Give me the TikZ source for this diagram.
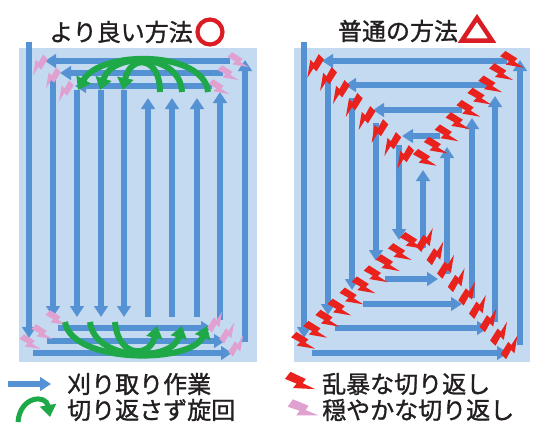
\documentclass[tikz,border=0pt]{standalone}
\usepackage{fontspec}
\newfontfamily\jp{Noto Sans CJK JP}[FakeBold=1.2]
\usetikzlibrary{arrows.meta}
\definecolor{bgblue}{RGB}{196,218,240}
\definecolor{lineblue}{RGB}{84,146,212}
\definecolor{turngreen}{RGB}{30,168,72}
\definecolor{boltred}{RGB}{234,34,30}
\definecolor{boltpink}{RGB}{224,160,208}
\definecolor{markred}{RGB}{218,28,36}
\definecolor{txtgray}{RGB}{35,31,32}
\newcommand\zap[5]{\fill[#5,shift={(#1,#2)},rotate=#3,scale=#4] (-10,-2.5) -- (-10,3.5) -- (-2,1.2) -- (-2,5) -- (10,-3.5) -- (1,-1.5) -- (1,-5) -- cycle;}
\begin{document}
\begin{tikzpicture}[x=1pt,y=-1pt,
  cutarrow/.style={draw=lineblue,line width=5.5pt,-{Triangle[width=13.5pt,length=11pt]}},
  uturnarrow/.style={draw=turngreen,line width=6pt,-{Triangle[width=16pt,length=12pt]}},
  lblstyle/.style={font=\jp\fontsize{24}{28}\selectfont,text=txtgray,inner sep=0pt}]
\useasboundingbox (0,0) rectangle (551,434);
\fill[white] (0,0) rectangle (551,434);
% panels
\fill[bgblue] (19,48) rectangle (257,362);
\fill[bgblue] (294,48) rectangle (530,362);
% left blue cuts
\foreach \ax/\ay/\bx/\by in {29/42/29/338, 53/77/53/317, 77/90/77/317, 101/90/101/317, 124/90/124/317,
  148/317/148/98, 172/317/172/98, 197/317/197/98, 220/320/220/92, 245/342/245/60,
  230/61/45/61, 223/73/60/73, 212/86/75/86, 58/328/212/328, 47/341/225/341, 33/353/232/353}
  {\draw[cutarrow] (\ax,\ay) -- (\bx,\by);}
% right blue cuts
\foreach \ax/\ay/\bx/\by in {304/42/304/338, 312/353/508/353, 520/345/520/60, 507/61/322/61,
  328/76/328/315, 335/328/488/328, 495/322/495/96, 488/85/345/85, 352/98/352/290,
  363/304/462/304, 472/298/472/118, 462/110/373/110, 376/123/376/261, 385/279/438/279,
  447/274/447/147, 440/136/402/136, 399/145/399/240, 423/248/423/170}
  {\draw[cutarrow] (\ax,\ay) -- (\bx,\by);}
% pink gentle turns
\foreach \px/\py in {38/65, 51/78, 64/91} {\zap{\px}{\py}{225}{1.1}{boltpink}}
\foreach \px/\py in {238/62, 228/75, 219/89} {\zap{\px}{\py}{-45}{1.1}{boltpink}}
\foreach \px/\py in {30/344, 42/334, 56/320} {\zap{\px}{\py}{-45}{1.1}{boltpink}}
\foreach \px/\py in {217/322, 229/333, 238/346} {\zap{\px}{\py}{45}{1.1}{boltpink}}
% green u-turns
\draw[uturnarrow] (208,92) .. controls (204,50) and (100,50) .. (78,90);
\draw[uturnarrow] (182,92) .. controls (180,52) and (112,52) .. (100,90);
\draw[uturnarrow] (160,92) .. controls (160,55) and (130,55) .. (123,90);
\draw[uturnarrow] (65,322) .. controls (72,364) and (192,364) .. (207,326);
\draw[uturnarrow] (90,322) .. controls (95,362) and (172,362) .. (182,326);
\draw[uturnarrow] (115,322) .. controls (118,358) and (150,358) .. (157,326);
% red rough turns
\foreach \k in {0,...,7} {\zap{313+12.86*\k}{66+13*\k}{225}{1.25}{boltred}}
\foreach \k in {0,...,8} {\zap{512-10.9*\k}{62+12.25*\k}{-45}{1.25}{boltred}}
\foreach \k in {0,...,9} {\zap{303+12.1*\k}{343-11.1*\k}{-45}{1.25}{boltred}}
\foreach \k in {0,...,8} {\zap{427+10.6*\k}{240+13.4*\k}{45}{1.25}{boltred}}
% titles
\node[lblstyle] (t1) at (121,32) {より良い方法};
\draw[markred,line width=4.2pt] (210,32) circle[radius=12.5pt];
\node[lblstyle] (t2) at (398,31) {普通の方法};
\draw[markred,line width=4.5pt,line join=miter] (477,18) -- (462,40.5) -- (492,40.5) -- cycle;
% legend
\draw[cutarrow,line width=6pt] (8,384) -- (51,384);
\node[lblstyle,anchor=west] (l1) at (67,384) {刈り取り作業};
\draw[uturnarrow,line width=5pt] (18,422) .. controls (20,396) and (46,394) .. (50,417);
\node[lblstyle,anchor=west] (l2) at (67,410) {切り返さず旋回};
\zap{300}{384}{-38}{1.5}{boltred}
\node[lblstyle,anchor=west] (l3) at (322,384) {乱暴な切り返し};
\zap{303}{411}{-35}{1.5}{boltpink}
\node[lblstyle,anchor=west] (l4) at (322,410) {穏やかな切り返し};
\end{tikzpicture}
\end{document}
